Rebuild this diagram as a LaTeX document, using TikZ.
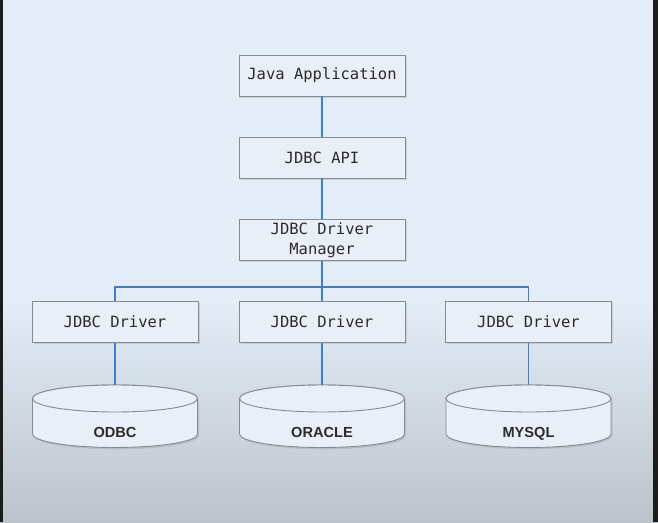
\documentclass[tikz,border=0pt]{standalone}
\usepackage{fontspec}
\setmonofont{DejaVu Sans Mono}
\setsansfont{Liberation Sans}
\usetikzlibrary{shadows}
\definecolor{bgtop}{HTML}{E3EDF8}
\definecolor{bgbot}{HTML}{BDC3CB}
\definecolor{boxfill}{HTML}{E9EFF6}
\definecolor{boxline}{HTML}{858B93}
\definecolor{link}{HTML}{3C80C6}
\definecolor{txt}{HTML}{2B2B2B}
\definecolor{frame}{HTML}{1C1C1C}
\tikzset{
  box/.style={draw=boxline, line width=0.9pt, fill=boxfill, minimum width=166pt, minimum height=41pt,
    inner sep=0pt, font=\ttfamily\fontsize{15.5}{20}\selectfont, text=txt, align=center,
    drop shadow={shadow xshift=1.5pt, shadow yshift=-1.8pt, opacity=0.25}},
  cyl/.style={draw=boxline, line width=0.9pt, fill=boxfill},
  dblabel/.style={font=\sffamily\bfseries\fontsize{14.6}{16}\selectfont, text=txt, inner sep=0pt, anchor=base},
  conn/.style={draw=link, line width=1.9pt}
}
\begin{document}
\begin{tikzpicture}[x=1pt,y=1pt]
\useasboundingbox (0,0) rectangle (658,522);
% background
\fill[bgtop] (0,222) rectangle (658,522);
\shade[top color=bgtop, bottom color=bgbot] (0,0) rectangle (658,222.5);
\fill[frame] (0,0) rectangle (2.5,522);
\fill[frame] (653,0) rectangle (658,522);

% nodes
\node[box] (app) at (322,446.5) {Java Application};
\node[box] (api) at (322,364.5) {JDBC API};
\node[box] (mgr) at (322,282) {JDBC Driver\\Manager};
\node[box] (d1) at (115,200) {JDBC Driver};
\node[box] (d2) at (322,200) {JDBC Driver};
\node[box] (d3) at (528.5,200) {JDBC Driver};

% cylinders
\foreach \cx/\nm/\lab in {115/c1/ODBC, 322/c2/ORACLE, 528.5/c3/MYSQL}{
  \path[cyl, drop shadow={shadow xshift=1.5pt, shadow yshift=-1.8pt, opacity=0.25}]
    (\cx-82.5,123.5) -- (\cx-82.5,88)
    arc[start angle=180, end angle=360, x radius=82.5pt, y radius=13.5pt]
    -- (\cx+82.5,123.5)
    arc[start angle=0, end angle=180, x radius=82.5pt, y radius=13.5pt] -- cycle;
  \path[cyl] (\cx,123.5) ellipse[x radius=82.5pt, y radius=13.5pt];
  \coordinate (\nm) at (\cx,137);
  \node[dblabel] (\nm l) at (\cx,84.5) {\lab};
}

% connectors
\draw[conn] (app.south) -- (api.north);
\draw[conn] (api.south) -- (mgr.north);
\coordinate (busl) at (115,235);
\coordinate (busr) at (528.5,235);
\draw[conn] (mgr.south) -- (d2.north);
\draw[conn] (d1.north) -- (busl) -- (busr) -- (d3.north);
\draw[conn] (d1.south) -- (c1);
\draw[conn] (d2.south) -- (c2);
\draw[conn] (d3.south) -- (c3);
\end{tikzpicture}
\end{document}
